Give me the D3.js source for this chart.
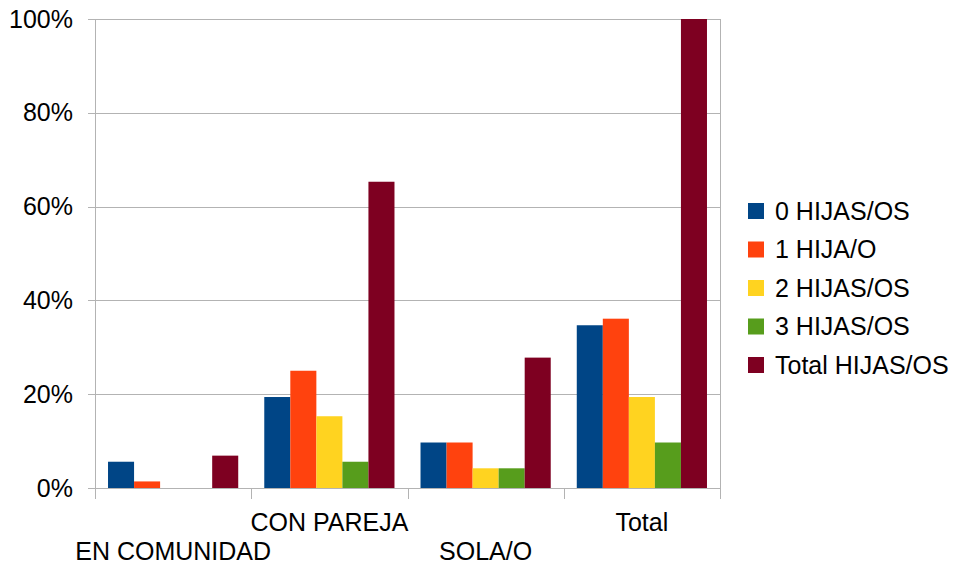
<!DOCTYPE html>
<html>
<head>
<meta charset="utf-8">
<script src="https://cdn.jsdelivr.net/npm/d3@7"></script>
<style>
  html, body { margin: 0; padding: 0; background: #fff; }
  svg text { font-family: "Liberation Sans", Arial, sans-serif; fill: #000; }
</style>
</head>
<body>
<svg id="chart" width="957" height="567"></svg>
<script>
// Categories along the x axis
const categories = ["EN COMUNIDAD", "CON PAREJA", "SOLA/O", "Total"];
// Series names (legend order)
const seriesNames = ["0 HIJAS/OS", "1 HIJA/O", "2 HIJAS/OS", "3 HIJAS/OS", "Total HIJAS/OS"];
// Percent values per series, one per category
const hijas0 = [5.6, 19.4, 9.7, 34.7];
const hija1 = [1.4, 25.0, 9.7, 36.1];
const hijas2 = [0, 15.3, 4.2, 19.4];
const hijas3 = [0, 5.6, 4.2, 9.7];
const totalHijas = [6.9, 65.3, 27.8, 100];
const seriesValues = [hijas0, hija1, hijas2, hijas3, totalHijas];
// Y-axis tick values
const yTicks = [0, 20, 40, 60, 80, 100];

const colors = ["#004586", "#ff420e", "#ffd320", "#579d1c", "#7e0021"];
const fontSize = 25;

const svg = d3.select("#chart");
const plot = { left: 95, right: 720, top: 19, bottom: 488 };

const x = d3.scaleBand()
  .domain(categories)
  .range([plot.left, plot.right])
  .padding(0);

const xInner = d3.scaleBand()
  .domain(seriesNames)
  .range([0, x.bandwidth()])
  .paddingInner(0)
  .paddingOuter(0.5);

const y = d3.scaleLinear()
  .domain([0, 100])
  .range([plot.bottom, plot.top]);

const gridColor = "#b3b3b3";

// Horizontal grid lines
svg.append("g")
  .selectAll("line")
  .data(yTicks)
  .join("line")
  .attr("x1", plot.left - 7)
  .attr("x2", plot.right)
  .attr("y1", d => Math.round(y(d)) + 0.5)
  .attr("y2", d => Math.round(y(d)) + 0.5)
  .attr("stroke", gridColor)
  .attr("stroke-width", 1);

// Left and right walls
svg.append("line")
  .attr("x1", plot.left + 0.5).attr("x2", plot.left + 0.5)
  .attr("y1", plot.top).attr("y2", plot.bottom)
  .attr("stroke", gridColor);
svg.append("line")
  .attr("x1", plot.right + 0.5).attr("x2", plot.right + 0.5)
  .attr("y1", plot.top).attr("y2", plot.bottom + 11)
  .attr("stroke", gridColor);

// Y axis labels
const yAxis = d3.axisLeft(y)
  .tickValues(yTicks)
  .tickFormat(d => d + "%")
  .tickSize(0)
  .tickPadding(22);
const gy = svg.append("g")
  .attr("transform", `translate(${plot.left},0)`)
  .call(yAxis);
gy.select(".domain").remove();
gy.selectAll("text")
  .attr("font-size", fontSize)
  .attr("font-family", "Liberation Sans, Arial, sans-serif")
  .attr("fill", "#000");

// Bars
const groups = svg.append("g")
  .selectAll("g")
  .data(categories)
  .join("g")
  .attr("transform", d => `translate(${x(d)},0)`);

groups.selectAll("rect")
  .data((c, ci) => seriesNames.map((s, si) => ({ s, v: seriesValues[si][ci], si })))
  .join("rect")
  .attr("x", d => xInner(d.s))
  .attr("width", xInner.bandwidth())
  .attr("y", d => y(d.v))
  .attr("height", d => y(0) - y(d.v))
  .attr("fill", d => colors[d.si]);

// X axis baseline and ticks at category boundaries
const xAxisG = svg.append("g");
xAxisG.append("line")
  .attr("x1", plot.left).attr("x2", plot.right)
  .attr("y1", plot.bottom + 0.5).attr("y2", plot.bottom + 0.5)
  .attr("stroke", gridColor);
const boundaries = categories.map(c => x(c)).concat([plot.right]);
xAxisG.selectAll("line.tick")
  .data(boundaries)
  .join("line")
  .attr("class", "tick")
  .attr("x1", d => Math.round(d) + 0.5)
  .attr("x2", d => Math.round(d) + 0.5)
  .attr("y1", plot.bottom)
  .attr("y2", plot.bottom + 11)
  .attr("stroke", gridColor);

// Staggered category labels
xAxisG.selectAll("text")
  .data(categories)
  .join("text")
  .attr("x", d => x(d) + x.bandwidth() / 2)
  .attr("y", (d, i) => i % 2 === 1 ? 531 : 560)
  .attr("text-anchor", "middle")
  .attr("font-size", fontSize)
  .text(d => d);

// Legend
const legend = svg.append("g")
  .attr("transform", "translate(748,203)");
const item = legend.selectAll("g")
  .data(seriesNames)
  .join("g")
  .attr("transform", (d, i) => `translate(0,${i * 38.5})`);
item.append("rect")
  .attr("width", 16)
  .attr("height", 16)
  .attr("fill", (d, i) => colors[i]);
item.append("text")
  .attr("x", 27)
  .attr("y", 8)
  .attr("dy", "0.35em")
  .attr("font-size", fontSize)
  .text(d => d);
</script>
</body>
</html>
